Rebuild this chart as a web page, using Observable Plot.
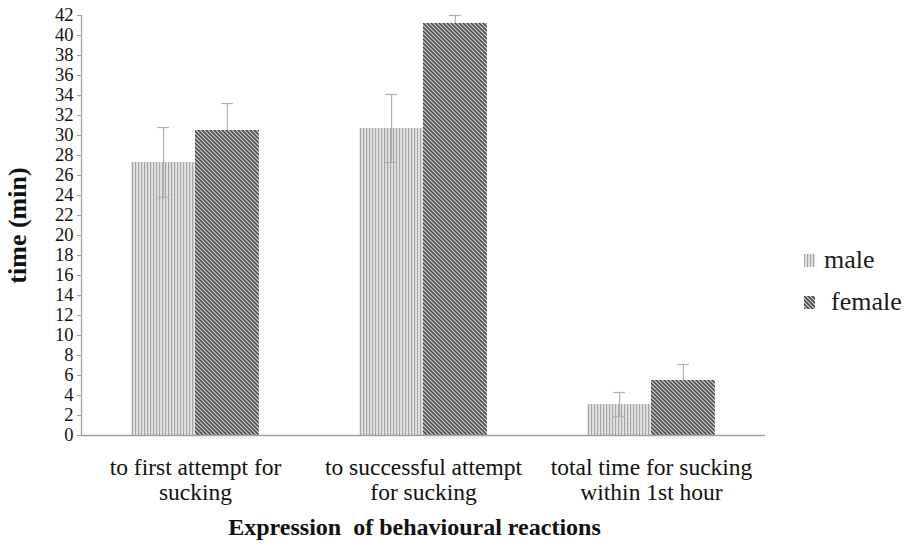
<!DOCTYPE html>
<html>
<head>
<meta charset="utf-8">
<script src="https://cdn.jsdelivr.net/npm/d3@7"></script>
<script src="https://cdn.jsdelivr.net/npm/@observablehq/plot@0.6"></script>
<style>
  html, body { margin: 0; padding: 0; background: #fff; }
  #chart { position: relative; width: 910px; height: 546px; font-family: 'Liberation Serif', 'DejaVu Serif', serif; }
  #chart svg, #chart svg text { font-family: 'Liberation Serif', 'DejaVu Serif', serif !important; }
  g[aria-label="x-axis label"] text, g[aria-label="y-axis label"] text { font-weight: bold; fill: #111; }
  .legend { position: absolute; left: 804px; top: 247px; font-size: 26px; color: #1a1a1a; line-height: 1; }
  .legend .item { display: flex; align-items: center; height: 26px; }
  .legend .item + .item { margin-top: 16px; }
  .legend svg { margin-right: 9px; }
  .legend .item.female svg { margin-right: 16px; }
</style>
</head>
<body>
<div id="chart"></div>
<script>
// Mean times (min) with error bars, by sex, for three behavioural reactions
const categories = [
  "to first attempt for\nsucking",
  "to successful attempt\nfor sucking",
  "total time for sucking\nwithin 1st hour"
];
const sexes = ["male", "female"];
const maleMean = [27.3, 30.7, 3.1];
const maleErr = [3.5, 3.4, 1.2];
const femaleMean = [30.5, 41.2, 5.5];
const femaleErr = [2.7, 0.8, 1.6];
const yTicks = d3.range(0, 43, 2);

const barHalf = 0.28; // width of one bar in category units
const capHalf = 0.026;

const rows = [];
categories.forEach((c, i) => {
  rows.push({i, sex: "male", value: maleMean[i], err: maleErr[i], x1: i - barHalf, x2: i, xc: i - barHalf / 2});
  rows.push({i, sex: "female", value: femaleMean[i], err: femaleErr[i], x1: i, x2: i + barHalf, xc: i + barHalf / 2});
});
const maleRows = rows.filter(d => d.sex === "male");
const femaleRows = rows.filter(d => d.sex === "female");

const patternFill = {male: "url(#pat-male)", female: "url(#pat-female)"};
const errStyle = {stroke: "#b0b0b0", strokeWidth: 1.2};

const plot = Plot.plot({
  width: 910,
  height: 546,
  marginLeft: 81,
  marginRight: 145,
  marginTop: 15,
  marginBottom: 111,
  style: {fontSize: "17px", color: "#111"},
  x: {domain: [-0.5, 2.5]},
  y: {domain: [0, 42]},
  marks: [
    Plot.rectY(maleRows, {x1: "x1", x2: "x2", y1: 0, y2: "value", fill: patternFill.male}),
    // error bars
    Plot.ruleX(rows, {x: "xc", y1: d => d.value - d.err, y2: d => d.value + d.err, ...errStyle}),
    Plot.ruleY(rows, {y: d => d.value + d.err, x1: d => d.xc - capHalf, x2: d => d.xc + capHalf, ...errStyle}),
    Plot.ruleY(maleRows, {y: d => d.value - d.err, x1: d => d.xc - capHalf, x2: d => d.xc + capHalf, ...errStyle}),
    // the dark hatched bars sit over the lower half of their error bars
    Plot.rectY(femaleRows, {x1: "x1", x2: "x2", y1: 0, y2: "value", fill: patternFill.female}),
    // axes lines
    Plot.ruleY([0], {stroke: "#a0a0a0", strokeWidth: 1.3}),
    Plot.ruleX([-0.5], {y1: 0, y2: 42, stroke: "#a0a0a0", strokeWidth: 1.3}),
    Plot.axisY({
      ticks: yTicks, tickSize: 4, tickPadding: 4, stroke: "#a0a0a0", fill: "#111", fontSize: 18.5,
      label: "time (min)", labelAnchor: "center", labelOffset: 74, labelArrow: false
    }),
    Plot.axisX({
      ticks: [0, 1, 2], tickFormat: i => categories[i], tickSize: 0, tickPadding: 22,
      fontSize: 23.5, lineHeight: 1.06, fill: "#111",
      label: "Expression  of behavioural reactions", labelAnchor: "center", labelOffset: 99, labelArrow: false
    })
  ]
});

// hatch patterns for the two series
const defs = d3.select(plot).insert("defs", ":first-child");
const pm = defs.append("pattern").attr("id", "pat-male").attr("patternUnits", "userSpaceOnUse")
  .attr("width", 3).attr("height", 2);
pm.append("rect").attr("width", 3).attr("height", 2).attr("fill", "#e4e4e4");
pm.append("rect").attr("x", 0).attr("width", 1).attr("height", 2).attr("fill", "#a4a4a4");
pm.append("rect").attr("x", 1).attr("y", 1).attr("width", 1).attr("height", 1).attr("fill", "#cfcfcf");
const pf = defs.append("pattern").attr("id", "pat-female").attr("patternUnits", "userSpaceOnUse")
  .attr("width", 4).attr("height", 4);
pf.append("rect").attr("width", 4).attr("height", 4).attr("fill", "#d6d6d6");
pf.append("path").attr("d", "M0,0L4,4M-1,3L1,5M3,-1L5,1")
  .attr("stroke", "#4a4a4a").attr("stroke-width", 1.6);

// axis title sizes and placement
d3.select(plot).selectAll('g[aria-label="x-axis label"] text').attr("font-size", 24).attr("dx", -9);
d3.select(plot).selectAll('g[aria-label="y-axis label"] text').attr("font-size", 26);

const chart = document.getElementById("chart");
chart.appendChild(plot);

// legend
const legend = document.createElement("div");
legend.className = "legend";
sexes.forEach(s => {
  const item = document.createElement("div");
  item.className = "item " + s;
  item.innerHTML = `<svg width="11" height="13"><rect width="11" height="13" fill="${patternFill[s]}"/></svg><span>${s}</span>`;
  legend.appendChild(item);
});
chart.appendChild(legend);
</script>
</body>
</html>
